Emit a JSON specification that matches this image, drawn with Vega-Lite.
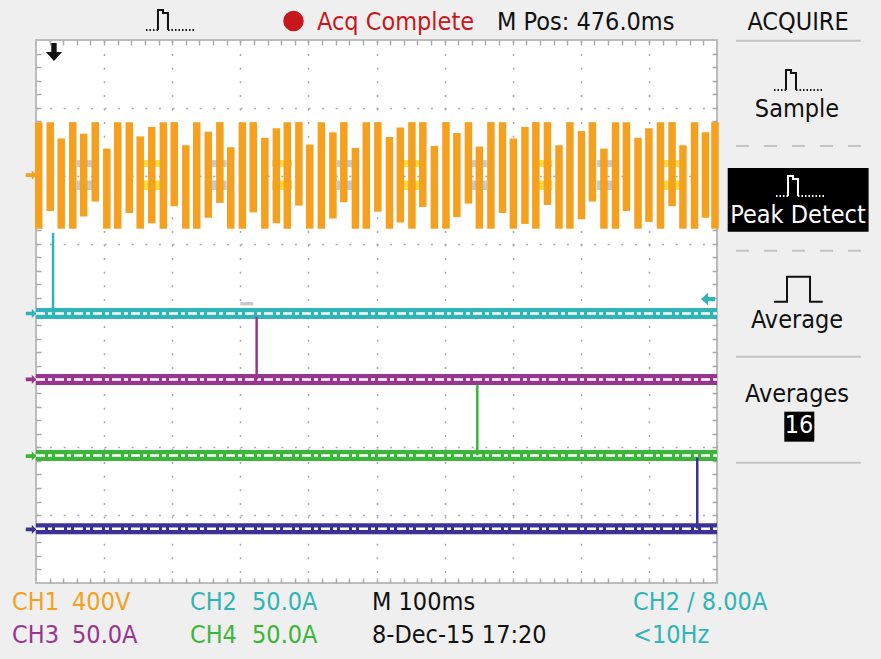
{
  "$schema": "https://vega.github.io/schema/vega-lite/v6.json",
  "width": 681,
  "height": 543,
  "autosize": {"type": "none"},
  "padding": {"left": 36, "top": 40, "right": 164, "bottom": 76},
  "background": "#efefef",
  "config": {
    "view": {"fill": "white", "stroke": "#bcbcbc", "strokeWidth": 2},
    "text": {"font": "DejaVu Sans Condensed", "fontSize": 25}
  },
  "datasets": {
    "ch1": [
      {"t": 4, "hi": 2.79, "lo": 1.22}, {"t": 21, "hi": 2.79, "lo": 1.48}, {"t": 37, "hi": 2.55, "lo": 1.22},
      {"t": 54, "hi": 2.79, "lo": 1.22}, {"t": 70, "hi": 2.62, "lo": 1.40}, {"t": 87, "hi": 2.79, "lo": 1.62},
      {"t": 104, "hi": 2.40, "lo": 1.22}, {"t": 120, "hi": 2.79, "lo": 1.22}, {"t": 137, "hi": 2.79, "lo": 1.45},
      {"t": 153, "hi": 2.58, "lo": 1.22}, {"t": 170, "hi": 2.72, "lo": 1.30}, {"t": 187, "hi": 2.79, "lo": 1.22},
      {"t": 203, "hi": 2.79, "lo": 1.55}, {"t": 220, "hi": 2.45, "lo": 1.22}, {"t": 236, "hi": 2.79, "lo": 1.22},
      {"t": 253, "hi": 2.65, "lo": 1.38}, {"t": 270, "hi": 2.79, "lo": 1.60}, {"t": 286, "hi": 2.42, "lo": 1.22},
      {"t": 303, "hi": 2.79, "lo": 1.22}, {"t": 319, "hi": 2.79, "lo": 1.46}, {"t": 336, "hi": 2.56, "lo": 1.22},
      {"t": 353, "hi": 2.70, "lo": 1.30}, {"t": 369, "hi": 2.79, "lo": 1.22}, {"t": 386, "hi": 2.79, "lo": 1.56},
      {"t": 402, "hi": 2.46, "lo": 1.22}, {"t": 419, "hi": 2.79, "lo": 1.22}, {"t": 436, "hi": 2.64, "lo": 1.37},
      {"t": 452, "hi": 2.79, "lo": 1.61}, {"t": 469, "hi": 2.41, "lo": 1.22}, {"t": 485, "hi": 2.79, "lo": 1.22},
      {"t": 502, "hi": 2.79, "lo": 1.47}, {"t": 519, "hi": 2.57, "lo": 1.22}, {"t": 535, "hi": 2.71, "lo": 1.31},
      {"t": 552, "hi": 2.79, "lo": 1.22}, {"t": 568, "hi": 2.79, "lo": 1.54}, {"t": 585, "hi": 2.44, "lo": 1.22},
      {"t": 602, "hi": 2.79, "lo": 1.22}, {"t": 618, "hi": 2.63, "lo": 1.39}, {"t": 635, "hi": 2.79, "lo": 1.59},
      {"t": 651, "hi": 2.43, "lo": 1.22}, {"t": 668, "hi": 2.79, "lo": 1.22}, {"t": 685, "hi": 2.79, "lo": 1.45},
      {"t": 701, "hi": 2.55, "lo": 1.22}, {"t": 718, "hi": 2.72, "lo": 1.29}, {"t": 734, "hi": 2.79, "lo": 1.22},
      {"t": 751, "hi": 2.79, "lo": 1.57}, {"t": 768, "hi": 2.45, "lo": 1.22}, {"t": 784, "hi": 2.79, "lo": 1.22},
      {"t": 801, "hi": 2.66, "lo": 1.36}, {"t": 817, "hi": 2.79, "lo": 1.62}, {"t": 834, "hi": 2.40, "lo": 1.22},
      {"t": 851, "hi": 2.79, "lo": 1.22}, {"t": 867, "hi": 2.79, "lo": 1.48}, {"t": 884, "hi": 2.56, "lo": 1.22},
      {"t": 900, "hi": 2.70, "lo": 1.32}, {"t": 917, "hi": 2.79, "lo": 1.22}, {"t": 934, "hi": 2.79, "lo": 1.55},
      {"t": 950, "hi": 2.45, "lo": 1.22}, {"t": 967, "hi": 2.79, "lo": 1.22}, {"t": 983, "hi": 2.64, "lo": 1.38},
      {"t": 997, "hi": 2.79, "lo": 1.22}
    ],
    "patches": [
      {"t0": 60, "t1": 89, "v0": 2.13, "v1": 2.23, "grp": "gray"}, {"t0": 60, "t1": 89, "v0": 1.79, "v1": 1.93, "grp": "gray"},
      {"t0": 156, "t1": 185, "v0": 2.13, "v1": 2.23, "grp": "yellow"}, {"t0": 156, "t1": 185, "v0": 1.79, "v1": 1.93, "grp": "yellow"},
      {"t0": 251, "t1": 280, "v0": 2.13, "v1": 2.23, "grp": "gray"}, {"t0": 251, "t1": 280, "v0": 1.79, "v1": 1.93, "grp": "gray"},
      {"t0": 347, "t1": 376, "v0": 2.13, "v1": 2.23, "grp": "yellow"}, {"t0": 347, "t1": 376, "v0": 1.79, "v1": 1.93, "grp": "yellow"},
      {"t0": 442, "t1": 471, "v0": 2.13, "v1": 2.23, "grp": "gray"}, {"t0": 442, "t1": 471, "v0": 1.79, "v1": 1.93, "grp": "gray"},
      {"t0": 538, "t1": 567, "v0": 2.13, "v1": 2.23, "grp": "yellow"}, {"t0": 538, "t1": 567, "v0": 1.79, "v1": 1.93, "grp": "yellow"},
      {"t0": 633, "t1": 662, "v0": 2.13, "v1": 2.23, "grp": "gray"}, {"t0": 633, "t1": 662, "v0": 1.79, "v1": 1.93, "grp": "gray"},
      {"t0": 729, "t1": 758, "v0": 2.13, "v1": 2.23, "grp": "yellow"}, {"t0": 729, "t1": 758, "v0": 1.79, "v1": 1.93, "grp": "yellow"},
      {"t0": 824, "t1": 853, "v0": 2.13, "v1": 2.23, "grp": "gray"}, {"t0": 824, "t1": 853, "v0": 1.79, "v1": 1.93, "grp": "gray"},
      {"t0": 920, "t1": 949, "v0": 2.13, "v1": 2.23, "grp": "yellow"}, {"t0": 920, "t1": 949, "v0": 1.79, "v1": 1.93, "grp": "yellow"},
      {"t0": 300, "t1": 319, "v0": 0.09, "v1": 0.14, "grp": "gray"}
    ],
    "baselines": [
      {"grp": "CH2", "t0": 0, "t1": 1000, "v": -0.03},
      {"grp": "CH3", "t0": 0, "t1": 1000, "v": -1.0},
      {"grp": "CH4", "t0": 0, "t1": 1000, "v": -2.12},
      {"grp": "REF", "t0": 0, "t1": 1000, "v": -3.2}
    ],
    "spikes": [
      {"grp": "CH2", "t": 25, "v0": -0.03, "v1": 1.16},
      {"grp": "CH3", "t": 324, "v0": -1.0, "v1": -0.08},
      {"grp": "CH4", "t": 648, "v0": -2.12, "v1": -1.08},
      {"grp": "REF", "t": 971, "v0": -3.2, "v1": -2.15}
    ],
    "chmarkers": [
      {"grp": "CH1", "t": -7.3, "v": 2.01},
      {"grp": "CH2", "t": -7.3, "v": -0.03},
      {"grp": "CH3", "t": -7.3, "v": -1.0},
      {"grp": "CH4", "t": -7.3, "v": -2.13},
      {"grp": "REF", "t": -7.3, "v": -3.21}
    ],
    "trigpos": [{"grp": "black", "t": 26.4, "v": 3.823}],
    "triglevel": [{"grp": "CH2", "t": 986.8, "v": 0.184}],
    "dot": [{"grp": "red", "t": 378.1, "v": 4.28}],
    "texts_left": [
      {"label": "Acq Complete", "t": 412.6, "v": 4.147, "grp": "red"},
      {"label": "M Pos: 476.0ms", "t": 677, "v": 4.147, "grp": "black"},
      {"label": "CH1", "t": -35.2, "v": -4.396, "grp": "CH1"},
      {"label": "400V", "t": 52.9, "v": -4.396, "grp": "CH1"},
      {"label": "CH2", "t": 226.1, "v": -4.396, "grp": "CH2"},
      {"label": "50.0A", "t": 317.2, "v": -4.396, "grp": "CH2"},
      {"label": "M 100ms", "t": 493.4, "v": -4.396, "grp": "black"},
      {"label": "CH2 / 8.00A", "t": 876.7, "v": -4.396, "grp": "CH2"},
      {"label": "CH3", "t": -35.2, "v": -4.887, "grp": "CH3"},
      {"label": "50.0A", "t": 52.9, "v": -4.887, "grp": "CH3"},
      {"label": "CH4", "t": 226.1, "v": -4.887, "grp": "CH4"},
      {"label": "50.0A", "t": 317.2, "v": -4.887, "grp": "CH4"},
      {"label": "8-Dec-15 17:20", "t": 493.4, "v": -4.887, "grp": "black"},
      {"label": "<10Hz", "t": 876.7, "v": -4.887, "grp": "CH2"}
    ],
    "texts_center": [
      {"label": "ACQUIRE", "t": 1119, "v": 4.147, "grp": "black"},
      {"label": "Sample", "t": 1117.5, "v": 2.87, "grp": "black"},
      {"label": "Peak Detect", "t": 1119, "v": 1.299, "grp": "white"},
      {"label": "Average", "t": 1117.5, "v": -0.247, "grp": "black"},
      {"label": "Averages", "t": 1117.5, "v": -1.329, "grp": "black"},
      {"label": "16", "t": 1120.4, "v": -1.794, "grp": "white"}
    ],
    "boxes": [
      {"t0": 1015.7, "t1": 1222.6, "v0": 1.176, "v1": 2.113},
      {"t0": 1098.8, "t1": 1142.9, "v0": -1.918, "v1": -1.476}
    ],
    "sep_solid": [
      {"t0": 1027.9, "t1": 1211.5, "v": 3.99},
      {"t0": 1027.9, "t1": 1211.5, "v": -0.666},
      {"t0": 1027.9, "t1": 1211.5, "v": -2.228}
    ],
    "sep_dash": [
      {"t0": 1027.9, "t1": 1211.5, "v": 2.437},
      {"t0": 1027.9, "t1": 1211.5, "v": 0.896}
    ],
    "icon_pulse": [
      {"icon": "hdr", "ord": 1, "t": 179.1, "v": 4.147, "grp": "black"},
      {"icon": "hdr", "ord": 2, "t": 179.1, "v": 4.442, "grp": "black"},
      {"icon": "hdr", "ord": 3, "t": 186.5, "v": 4.442, "grp": "black"},
      {"icon": "hdr", "ord": 4, "t": 186.5, "v": 4.398, "grp": "black"},
      {"icon": "hdr", "ord": 5, "t": 193.8, "v": 4.398, "grp": "black"},
      {"icon": "hdr", "ord": 6, "t": 193.8, "v": 4.147, "grp": "black"},
      {"icon": "smp", "ord": 1, "t": 1101.3, "v": 3.263, "grp": "black"},
      {"icon": "smp", "ord": 2, "t": 1101.3, "v": 3.558, "grp": "black"},
      {"icon": "smp", "ord": 3, "t": 1108.7, "v": 3.558, "grp": "black"},
      {"icon": "smp", "ord": 4, "t": 1108.7, "v": 3.514, "grp": "black"},
      {"icon": "smp", "ord": 5, "t": 1116.0, "v": 3.514, "grp": "black"},
      {"icon": "smp", "ord": 6, "t": 1116.0, "v": 3.263, "grp": "black"},
      {"icon": "box", "ord": 1, "t": 1104.3, "v": 1.702, "grp": "white"},
      {"icon": "box", "ord": 2, "t": 1104.3, "v": 1.996, "grp": "white"},
      {"icon": "box", "ord": 3, "t": 1111.6, "v": 1.996, "grp": "white"},
      {"icon": "box", "ord": 4, "t": 1111.6, "v": 1.952, "grp": "white"},
      {"icon": "box", "ord": 5, "t": 1118.9, "v": 1.952, "grp": "white"},
      {"icon": "box", "ord": 6, "t": 1118.9, "v": 1.702, "grp": "white"},
      {"icon": "avg", "ord": 1, "t": 1083.7, "v": 0.144, "grp": "black"},
      {"icon": "avg", "ord": 2, "t": 1102.8, "v": 0.144, "grp": "black"},
      {"icon": "avg", "ord": 3, "t": 1102.8, "v": 0.513, "grp": "black"},
      {"icon": "avg", "ord": 4, "t": 1136.6, "v": 0.513, "grp": "black"},
      {"icon": "avg", "ord": 5, "t": 1136.6, "v": 0.144, "grp": "black"},
      {"icon": "avg", "ord": 6, "t": 1155.2, "v": 0.144, "grp": "black"}
    ],
    "icon_dots": [
      {"t0": 161.5, "t1": 179.1, "v": 4.147, "grp": "black"},
      {"t0": 193.8, "t1": 232.0, "v": 4.147, "grp": "black"},
      {"t0": 1083.7, "t1": 1101.3, "v": 3.263, "grp": "black"},
      {"t0": 1116.0, "t1": 1154.2, "v": 3.263, "grp": "black"},
      {"t0": 1086.6, "t1": 1104.3, "v": 1.702, "grp": "white"},
      {"t0": 1118.9, "t1": 1157.1, "v": 1.702, "grp": "white"}
    ]
  },
  "resolve": {"axis": {"x": "independent", "y": "independent"}},
  "layer": [
    {
      "data": {"name": "patches"},
      "mark": {"type": "rect"},
      "encoding": {
        "x": {"field": "t0", "type": "quantitative", "scale": {"domain": [0, 1000], "nice": false, "zero": false}, "axis": null},
        "x2": {"field": "t1"},
        "y": {"field": "v0", "type": "quantitative", "scale": {"domain": [-4, 4], "nice": false, "zero": false}, "axis": null},
        "y2": {"field": "v1"},
        "color": {"field": "grp", "type": "nominal", "legend": null,
          "scale": {"domain": ["CH1", "CH2", "CH3", "CH4", "REF", "red", "black", "white", "gray", "yellow"],
                    "range": ["#f5a01e", "#2fb4b7", "#98358f", "#3bb53a", "#3b3298", "#c8161d", "#111111", "#ffffff", "#c6c9d0", "#f6dc3c"]}}
      }
    },
    {
      "data": {"name": "ch1"},
      "mark": {"type": "rule", "color": "#f5a01e", "strokeWidth": 7.5},
      "encoding": {
        "x": {"field": "t", "type": "quantitative",
          "axis": {"orient": "bottom", "values": [100, 200, 300, 400, 500, 600, 700, 800, 900], "grid": true, "gridColor": "#a9a9a9", "gridDash": [2, 11.6], "gridWidth": 1.5, "ticks": false, "labels": false, "domain": false, "title": null}},
        "y": {"field": "hi", "type": "quantitative",
          "axis": {"orient": "left", "values": [-3, -2, -1, 0, 1, 2, 3], "grid": true, "gridColor": "#a9a9a9", "gridDash": [2, 11.6], "gridWidth": 1.5, "ticks": false, "labels": false, "domain": false, "title": null}},
        "y2": {"field": "lo"}
      }
    },
    {
      "data": {"name": "baselines"},
      "mark": {"type": "rule", "strokeWidth": 11},
      "encoding": {
        "x": {"field": "t0", "type": "quantitative",
          "axis": {"orient": "bottom", "values": [20,40,60,80,100,120,140,160,180,200,220,240,260,280,300,320,340,360,380,400,420,440,460,480,500,520,540,560,580,600,620,640,660,680,700,720,740,760,780,800,820,840,860,880,900,920,940,960,980], "offset": -5, "tickSize": 5, "tickColor": "#a9a9a9", "tickWidth": 1.5, "labels": false, "domain": false, "grid": false, "title": null}},
        "x2": {"field": "t1"},
        "y": {"field": "v", "type": "quantitative",
          "axis": {"orient": "left", "values": [-3.8,-3.6,-3.4,-3.2,-3,-2.8,-2.6,-2.4,-2.2,-2,-1.8,-1.6,-1.4,-1.2,-1,-0.8,-0.6,-0.4,-0.2,0,0.2,0.4,0.6,0.8,1,1.2,1.4,1.6,1.8,2,2.2,2.4,2.6,2.8,3,3.2,3.4,3.6,3.8], "offset": -5, "tickSize": 5, "tickColor": "#a9a9a9", "tickWidth": 1.5, "labels": false, "domain": false, "grid": false, "title": null}},
        "color": {"field": "grp", "type": "nominal", "legend": null}
      }
    },
    {
      "data": {"name": "baselines"},
      "mark": {"type": "rule", "strokeWidth": 2.5, "color": "white", "strokeDash": [9, 3, 4, 3]},
      "encoding": {
        "x": {"field": "t0", "type": "quantitative",
          "axis": {"orient": "top", "values": [20,40,60,80,100,120,140,160,180,200,220,240,260,280,300,320,340,360,380,400,420,440,460,480,500,520,540,560,580,600,620,640,660,680,700,720,740,760,780,800,820,840,860,880,900,920,940,960,980], "offset": -5, "tickSize": 5, "tickColor": "#a9a9a9", "tickWidth": 1.5, "labels": false, "domain": false, "grid": false, "title": null}},
        "x2": {"field": "t1"},
        "y": {"field": "v", "type": "quantitative",
          "axis": {"orient": "right", "values": [-3.8,-3.6,-3.4,-3.2,-3,-2.8,-2.6,-2.4,-2.2,-2,-1.8,-1.6,-1.4,-1.2,-1,-0.8,-0.6,-0.4,-0.2,0,0.2,0.4,0.6,0.8,1,1.2,1.4,1.6,1.8,2,2.2,2.4,2.6,2.8,3,3.2,3.4,3.6,3.8], "offset": -5, "tickSize": 5, "tickColor": "#a9a9a9", "tickWidth": 1.5, "labels": false, "domain": false, "grid": false, "title": null}}
      }
    },
    {
      "data": {"name": "spikes"},
      "mark": {"type": "rule", "strokeWidth": 2.5},
      "encoding": {
        "x": {"field": "t", "type": "quantitative", "axis": null},
        "y": {"field": "v0", "type": "quantitative", "axis": null},
        "y2": {"field": "v1"},
        "color": {"field": "grp", "type": "nominal", "legend": null}
      }
    },
    {
      "data": {"name": "chmarkers"},
      "mark": {"type": "point", "filled": true, "opacity": 1, "size": 110, "shape": "M-1,-0.35L0.15,-0.35L0.15,-0.9L1,0L0.15,0.9L0.15,0.35L-1,0.35Z"},
      "encoding": {
        "x": {"field": "t", "type": "quantitative", "axis": null},
        "y": {"field": "v", "type": "quantitative", "axis": null},
        "color": {"field": "grp", "type": "nominal", "legend": null}
      }
    },
    {
      "data": {"name": "trigpos"},
      "mark": {"type": "point", "filled": true, "opacity": 1, "size": 320, "shape": "M-0.3,-1L0.3,-1L0.3,0L0.9,0L0,1L-0.9,0L-0.3,0Z"},
      "encoding": {
        "x": {"field": "t", "type": "quantitative", "axis": null},
        "y": {"field": "v", "type": "quantitative", "axis": null},
        "color": {"field": "grp", "type": "nominal", "legend": null}
      }
    },
    {
      "data": {"name": "triglevel"},
      "mark": {"type": "point", "filled": true, "opacity": 1, "size": 200, "shape": "M1,-0.3L0,-0.3L0,-0.9L-1,0L0,0.9L0,0.3L1,0.3Z"},
      "encoding": {
        "x": {"field": "t", "type": "quantitative", "axis": null},
        "y": {"field": "v", "type": "quantitative", "axis": null},
        "color": {"field": "grp", "type": "nominal", "legend": null}
      }
    },
    {
      "data": {"name": "dot"},
      "mark": {"type": "point", "filled": true, "opacity": 1, "size": 420, "shape": "circle"},
      "encoding": {
        "x": {"field": "t", "type": "quantitative", "axis": null},
        "y": {"field": "v", "type": "quantitative", "axis": null},
        "color": {"field": "grp", "type": "nominal", "legend": null}
      }
    },
    {
      "data": {"name": "sep_solid"},
      "mark": {"type": "rule", "color": "#c4c4c4", "strokeWidth": 2},
      "encoding": {
        "x": {"field": "t0", "type": "quantitative", "axis": null},
        "x2": {"field": "t1"},
        "y": {"field": "v", "type": "quantitative", "axis": null}
      }
    },
    {
      "data": {"name": "sep_dash"},
      "mark": {"type": "rule", "color": "#c4c4c4", "strokeWidth": 2, "strokeDash": [13, 15]},
      "encoding": {
        "x": {"field": "t0", "type": "quantitative", "axis": null},
        "x2": {"field": "t1"},
        "y": {"field": "v", "type": "quantitative", "axis": null}
      }
    },
    {
      "data": {"name": "boxes"},
      "mark": {"type": "rect", "color": "#000000"},
      "encoding": {
        "x": {"field": "t0", "type": "quantitative", "axis": null},
        "x2": {"field": "t1"},
        "y": {"field": "v0", "type": "quantitative", "axis": null},
        "y2": {"field": "v1"}
      }
    },
    {
      "data": {"name": "icon_pulse"},
      "mark": {"type": "line", "strokeWidth": 2},
      "encoding": {
        "x": {"field": "t", "type": "quantitative", "axis": null},
        "y": {"field": "v", "type": "quantitative", "axis": null},
        "detail": {"field": "icon"},
        "order": {"field": "ord", "type": "quantitative"},
        "color": {"field": "grp", "type": "nominal", "legend": null}
      }
    },
    {
      "data": {"name": "icon_dots"},
      "mark": {"type": "rule", "strokeWidth": 2, "strokeDash": [1.5, 2]},
      "encoding": {
        "x": {"field": "t0", "type": "quantitative", "axis": null},
        "x2": {"field": "t1"},
        "y": {"field": "v", "type": "quantitative", "axis": null},
        "color": {"field": "grp", "type": "nominal", "legend": null}
      }
    },
    {
      "data": {"name": "texts_left"},
      "mark": {"type": "text", "align": "left", "baseline": "alphabetic"},
      "encoding": {
        "x": {"field": "t", "type": "quantitative", "axis": null},
        "y": {"field": "v", "type": "quantitative", "axis": null},
        "text": {"field": "label"},
        "color": {"field": "grp", "type": "nominal", "legend": null}
      }
    },
    {
      "data": {"name": "texts_center"},
      "mark": {"type": "text", "align": "center", "baseline": "alphabetic"},
      "encoding": {
        "x": {"field": "t", "type": "quantitative", "axis": null},
        "y": {"field": "v", "type": "quantitative", "axis": null},
        "text": {"field": "label"},
        "color": {"field": "grp", "type": "nominal", "legend": null}
      }
    }
  ]
}
